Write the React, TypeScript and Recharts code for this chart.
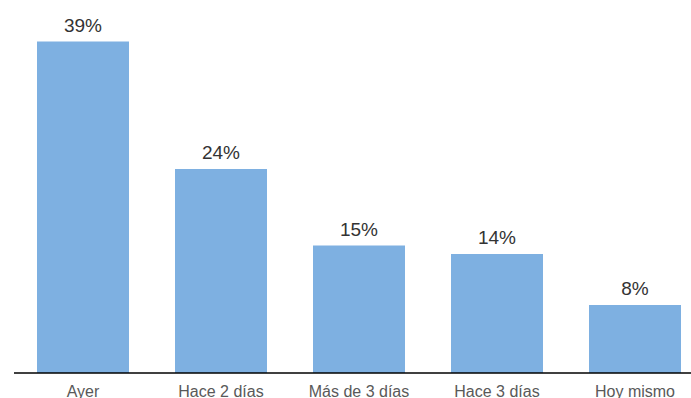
import { BarChart, Bar, XAxis, YAxis, LabelList } from 'recharts'

const categories = ['Ayer', 'Hace 2 días', 'Más de 3 días', 'Hace 3 días', 'Hoy mismo']
const shares = [39, 24, 15, 14, 8]

const data = categories.map((name, i) => ({ name, value: shares[i] }))

export default function App() {
  return (
    <div style={{ width: 691, height: 398, overflow: 'hidden', fontFamily: '"Liberation Sans", Arial, sans-serif' }}>
      <style>{'body{margin:0}'}</style>
      <BarChart
        width={704}
        height={398}
        data={data}
        margin={{ top: 33, right: 0, left: 14, bottom: 0 }}
        barSize={92}
        style={{ overflow: 'visible' }}
      >
        <XAxis
          dataKey="name"
          height={25}
          tickLine={false}
          tickSize={0}
          tickMargin={13}
          interval={0}
          axisLine={{ stroke: '#000', strokeWidth: 1.5 }}
          tick={{ fill: '#595959', fontSize: 16 }}
        />
        <YAxis hide domain={[0, 40]} />
        <Bar dataKey="value" fill="#7EB0E1" isAnimationActive={false}>
          <LabelList
            dataKey="value"
            position="top"
            offset={10}
            formatter={(v: any) => `${v}%`}
            style={{ fill: '#333', fontSize: 19 }}
          />
        </Bar>
      </BarChart>
    </div>
  )
}
